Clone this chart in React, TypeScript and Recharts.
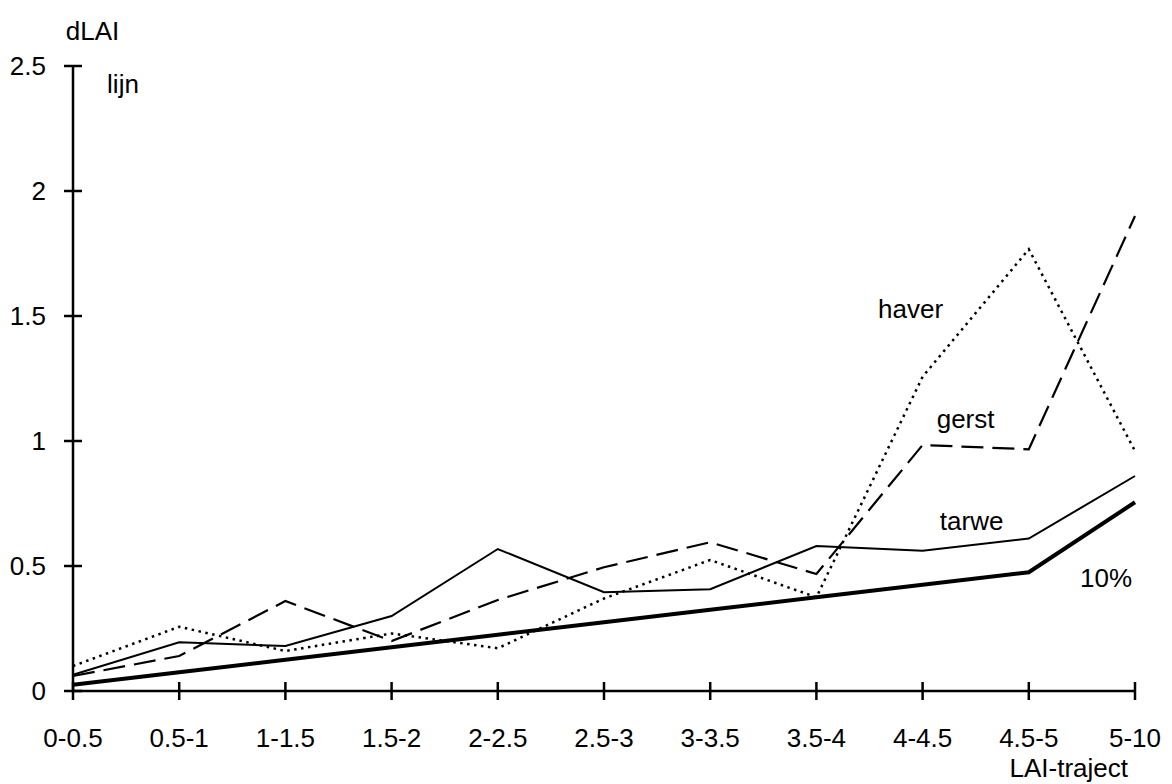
import { LineChart, Line, XAxis, YAxis, ReferenceDot } from 'recharts';

// LAI ranges on the x axis
const trajects = ['0-0.5', '0.5-1', '1-1.5', '1.5-2', '2-2.5', '2.5-3', '3-3.5', '3.5-4', '4-4.5', '4.5-5', '5-10'];
const yTicks = [0, 0.5, 1, 1.5, 2, 2.5];

// dLAI per range
const tienProcent = [0.025, 0.075, 0.125, 0.175, 0.225, 0.275, 0.325, 0.375, 0.425, 0.475, 0.755];
const tarwe = [0.065, 0.195, 0.18, 0.3, 0.568, 0.395, 0.407, 0.58, 0.561, 0.61, 0.86];
const gerst = [0.06, 0.14, 0.36, 0.2, 0.364, 0.495, 0.595, 0.468, 0.984, 0.967, 1.9];
const haver = [0.1, 0.257, 0.16, 0.23, 0.171, 0.37, 0.524, 0.375, 1.257, 1.767, 0.96];

const data = trajects.map((traject, i) => ({
  traject,
  tien: tienProcent[i],
  tarwe: tarwe[i],
  gerst: gerst[i],
  haver: haver[i],
}));

const FONT = '"Liberation Sans", Arial, Helvetica, sans-serif';
const FONT_SIZE = 26;

// ticks cross the axis line, so both are drawn by hand
function YTick({ x, y, payload }: any) {
  return (
    <g>
      <line x1={x - 9} x2={x + 9} y1={y} y2={y} stroke="#000" strokeWidth={2.5} />
      <text
        x={x - 27}
        y={y}
        textAnchor="end"
        dominantBaseline="central"
        fontSize={FONT_SIZE}
        fontFamily={FONT}
        fill="#000"
      >
        {String(payload.value)}
      </text>
    </g>
  );
}

function XTick({ x, y, payload }: any) {
  return (
    <g>
      <line x1={x} x2={x} y1={y - 9} y2={y + 9} stroke="#000" strokeWidth={2.5} />
      <text
        x={x}
        y={y + 47}
        textAnchor="middle"
        dominantBaseline="central"
        fontSize={FONT_SIZE}
        fontFamily={FONT}
        fill="#000"
      >
        {payload.value}
      </text>
    </g>
  );
}

const labelStyle = { fontSize: FONT_SIZE, fontFamily: FONT, fill: '#000' };

function SeriesLabel(x: string, y: number, text: string, dx: number) {
  return (
    <ReferenceDot
      x={x}
      y={y}
      r={0}
      fill="none"
      stroke="none"
      label={{ value: text, position: 'center', dx, ...labelStyle }}
    />
  );
}

export default function App() {
  return (
    <div style={{ position: 'absolute', left: 0, top: 0, width: 1172, height: 784, background: '#fff' }}>
      <LineChart
        width={1172}
        height={784}
        data={data}
        margin={{ top: 66, right: 37, bottom: 0, left: 0 }}
      >
        <XAxis
          dataKey="traject"
          scale="point"
          padding={{ left: 0, right: 0 }}
          interval={0}
          height={93}
          tickSize={0}
          tickMargin={0}
          tickLine={false}
          axisLine={{ stroke: '#000', strokeWidth: 2.5 }}
          tick={<XTick />}
          label={{ value: 'LAI-traject', position: 'insideBottomRight', offset: 7, ...labelStyle }}
        />
        <YAxis
          domain={[0, 2.5]}
          ticks={yTicks}
          width={73}
          tickSize={0}
          tickMargin={0}
          tickLine={false}
          axisLine={{ stroke: '#000', strokeWidth: 2.5 }}
          tick={<YTick />}
          label={{ value: 'dLAI', position: 'top', offset: 26, dx: 56, ...labelStyle }}
        />

        <Line
          dataKey="haver"
          stroke="#000"
          strokeWidth={2.5}
          strokeDasharray="2.5 4.5"
          dot={false}
          isAnimationActive={false}
        />
        <Line
          dataKey="gerst"
          stroke="#000"
          strokeWidth={2.2}
          strokeDasharray="22 9"
          dot={false}
          isAnimationActive={false}
        />
        <Line dataKey="tarwe" stroke="#000" strokeWidth={2} dot={false} isAnimationActive={false} />
        <Line dataKey="tien" stroke="#000" strokeWidth={4} dot={false} isAnimationActive={false} />

        {SeriesLabel('0-0.5', 2.428, 'lijn', 50)}
        {SeriesLabel('4-4.5', 1.528, 'haver', -12)}
        {SeriesLabel('4-4.5', 1.088, 'gerst', 43)}
        {SeriesLabel('4-4.5', 0.68, 'tarwe', 49)}
        {SeriesLabel('5-10', 0.452, '10%', -29)}
      </LineChart>
    </div>
  );
}
